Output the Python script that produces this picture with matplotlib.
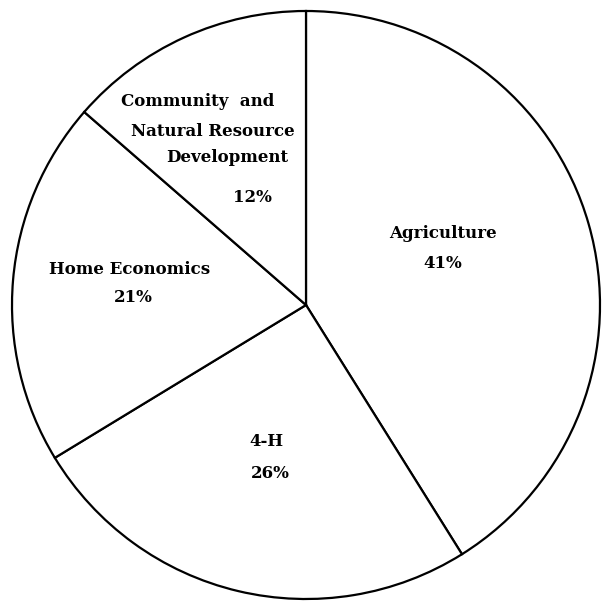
import matplotlib
matplotlib.use("Agg")
import matplotlib.pyplot as plt

categories = ["Agriculture", "4-H", "Home Economics",
              "Community  and\nNatural Resource\nDevelopment"]
# wedge sizes as drawn in the picture (percent of the circle)
shares = [41.1, 25.2, 20.1, 13.6]
# percentages as printed in the picture
pct_labels = ["41%", "26%", "21%", "12%"]

W, H = 602, 601
fig = plt.figure(figsize=(W / 100, H / 100), dpi=100)
ax = fig.add_axes([0, 0, 1, 1])
ax.axis("off")

cx, cy, r = 306, H - 305, 294
ax.pie(shares, startangle=90, counterclock=False, center=(cx, cy), radius=r,
       colors=["white"] * 4,
       wedgeprops=dict(edgecolor="black", linewidth=1.6))
ax.set_xlim(0, W)
ax.set_ylim(0, H)
ax.set_aspect("equal")

font = dict(family="DejaVu Serif", fontweight="bold", fontsize=12,
            ha="center", va="center", color="black")

# label positions in pixel coords from top-left
name_pos = [(443, 233), (266, 442), (130, 270), None]
pct_pos = [(443, 263), (270, 473), (133, 298), (252, 198)]

for i, cat in enumerate(categories):
    if name_pos[i] is not None:
        x, y = name_pos[i]
        ax.text(x, H - y, cat, **font)
    x, y = pct_pos[i]
    ax.text(x, H - y, pct_labels[i], **font)

comm_lines = categories[3].split("\n")
comm_pos = [(198, 102), (213, 132), (227, 158)]
for line, (x, y) in zip(comm_lines, comm_pos):
    ax.text(x, H - y, line, **font)

fig.savefig("out.png", dpi=100)
